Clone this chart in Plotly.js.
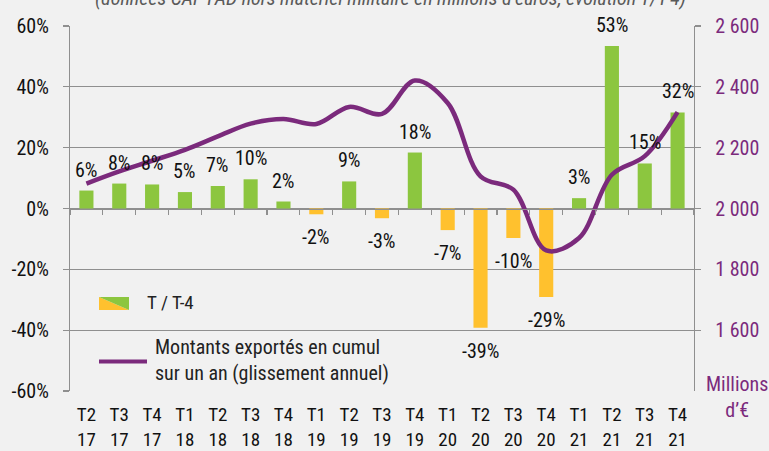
<!DOCTYPE html>
<html><head><meta charset="utf-8">
<script src="https://cdn.plot.ly/plotly-3.0.1.min.js"></script>
<style>html,body{margin:0;padding:0;background:#f1f1f1;}
svg text{font-stretch:75% !important;}</style>
</head><body><div id="chart" style="width:769px;height:451px;"></div>
<script>
// ---- data ----
const categories = ["T2 17","T3 17","T4 17","T1 18","T2 18","T3 18","T4 18","T1 19","T2 19","T3 19","T4 19","T1 20","T2 20","T3 20","T4 20","T1 21","T2 21","T3 21","T4 21"];
const tickLabels = ["T2<br>17","T3<br>17","T4<br>17","T1<br>18","T2<br>18","T3<br>18","T4<br>18","T1<br>19","T2<br>19","T3<br>19","T4<br>19","T1<br>20","T2<br>20","T3<br>20","T4<br>20","T1<br>21","T2<br>21","T3<br>21","T4<br>21"];
const growthPct = [5.9, 8.2, 7.9, 5.4, 7.4, 9.6, 2.3, -1.9, 8.9, -3.2, 18.4, -7.1, -39.2, -9.7, -29.1, 3.4, 53.4, 14.8, 31.6];
const cumulAmount = [2082, 2122, 2157, 2193, 2237, 2279, 2294, 2278, 2334, 2311, 2421, 2347, 2106, 2062, 1862, 1903, 2111, 2172, 2317];
const leftTickVals = [-60, -40, -20, 0, 20, 40, 60];
const leftTickText = ["-60%", "-40%", "-20%", "0%", "20%", "40%", "60%"];
const rightTickVals = [1600, 1800, 2000, 2200, 2400, 2600];
const rightTickText = ["1 600", "1 800", "2 000", "2 200", "2 400", "2 600"];
const titleText = "(données CAF-FAD hors matériel militaire en millions d\u2019euros, évolution T/T-4)";
const legendBarText = "T / T-4";
const legendLineText = "Montants exportés en cumul<br>sur un an (glissement annuel)";
const unitText = "Millions<br>d\u2019€";

// ---- style ----
const FONT = "Roboto, sans-serif";
const GREEN = "#8cc63f", ORANGE = "#ffc12e", PURPLE = "#7b2a7c", GRID = "#8f8f8f";
const L = 70, R = 75, T = 26, B = 60, W = 769, H = 451;
const pw = W - L - R, ph = H - T - B;
const px = x => (x - L) / pw;
const py = y => (H - B - y) / ph;

const bars = {
  type: "bar", x: categories, y: growthPct, width: 0.43,
  marker: {color: growthPct.map(v => v >= 0 ? GREEN : ORANGE)},
  hoverinfo: "skip", showlegend: false, xaxis: "x", yaxis: "y"
};
const line = {
  type: "scatter", mode: "lines", x: categories, y: cumulAmount,
  line: {color: PURPLE, width: 4.5, shape: "spline", smoothing: 1},
  hoverinfo: "skip", showlegend: false, xaxis: "x", yaxis: "y2"
};
const tickHolder = {
  type: "scatter", mode: "markers", x: categories, y: categories.map(() => 0),
  marker: {opacity: 0}, hoverinfo: "skip", showlegend: false, xaxis: "x2", yaxis: "y"
};

const annotations = growthPct.map((v, i) => ({
  x: categories[i], y: v, xref: "x", yref: "y",
  text: Math.round(v) + "%", showarrow: false,
  yshift: v >= 0 ? 21 : -23, yanchor: "middle",
  font: {family: FONT, size: 20, color: "#111"}
}));
annotations.push({
  xref: "paper", yref: "paper", x: px(390), y: py(-2), text: "<i>" + titleText + "</i>",
  showarrow: false, xanchor: "center", yanchor: "middle",
  font: {family: FONT, size: 20, color: "#5a5a5a"}
});
annotations.push({
  xref: "paper", yref: "paper", x: px(145), y: py(302), text: legendBarText,
  showarrow: false, xanchor: "left", yanchor: "middle",
  font: {family: FONT, size: 19, color: "#222"}
});
annotations.push({
  xref: "paper", yref: "paper", x: px(153), y: py(360), text: legendLineText,
  showarrow: false, xanchor: "left", yanchor: "middle", align: "left",
  font: {family: FONT, size: 20, color: "#222"}
});
annotations.push({
  xref: "paper", yref: "paper", x: px(737), y: py(397), text: unitText,
  showarrow: false, xanchor: "center", yanchor: "middle", align: "center",
  font: {family: FONT, size: 20, color: PURPLE}
});

const shapes = [
  {type: "path", xref: "paper", yref: "paper", line: {width: 0}, fillcolor: ORANGE,
   path: `M ${px(99)} ${py(297)} L ${px(99)} ${py(310)} L ${px(129)} ${py(310)} Z`},
  {type: "path", xref: "paper", yref: "paper", line: {width: 0}, fillcolor: GREEN,
   path: `M ${px(99)} ${py(297)} L ${px(129)} ${py(297)} L ${px(129)} ${py(310)} Z`},
  {type: "line", xref: "paper", yref: "paper", x0: px(99), x1: px(147), y0: py(361.5), y1: py(361.5),
   line: {color: PURPLE, width: 4}}
];

const layout = {
  width: W, height: H,
  margin: {l: L, r: R, t: T, b: B, pad: 0},
  paper_bgcolor: "#f1f1f1", plot_bgcolor: "#f1f1f1",
  font: {family: FONT, color: "#111"},
  bargap: 0.57,
  xaxis: {
    type: "category", range: [-0.5, 18.5], tickvals: categories, ticktext: tickLabels,
    showgrid: false, zeroline: false, showline: false, ticks: "",
    tickfont: {family: FONT, size: 19, color: "#111"}, ticklabelstandoff: 10, fixedrange: true
  },
  xaxis2: {
    type: "category", overlaying: "x", anchor: "free", position: 0.5, range: [-0.5, 18.5],
    showgrid: false, zeroline: false, showline: true, linecolor: GRID, linewidth: 1.2,
    ticks: "outside", ticklen: 5, tickcolor: GRID, tickwidth: 1.2, tickson: "boundaries",
    showticklabels: false, fixedrange: true
  },
  yaxis: {
    range: [-60, 60], tickvals: leftTickVals, ticktext: leftTickText,
    showgrid: true, gridcolor: GRID, gridwidth: 1.2, zeroline: false,
    showline: true, linecolor: GRID, linewidth: 1.2,
    ticks: "outside", ticklen: 6, tickcolor: GRID, tickwidth: 1.2,
    tickfont: {family: FONT, size: 20, color: "#111"}, ticklabelstandoff: 10, fixedrange: true
  },
  yaxis2: {
    overlaying: "y", side: "right", range: [1400, 2600],
    tickvals: rightTickVals, ticktext: rightTickText,
    showgrid: false, zeroline: false, showline: true, linecolor: GRID, linewidth: 1.2,
    ticks: "outside", ticklen: 6, tickcolor: GRID, tickwidth: 1.2,
    tickfont: {family: FONT, size: 20, color: PURPLE}, ticklabelstandoff: 10, fixedrange: true
  },
  annotations: annotations,
  shapes: shapes,
  showlegend: false
};

Plotly.newPlot("chart", [bars, tickHolder, line], layout, {staticPlot: true, displayModeBar: false});
</script>
</body></html>
